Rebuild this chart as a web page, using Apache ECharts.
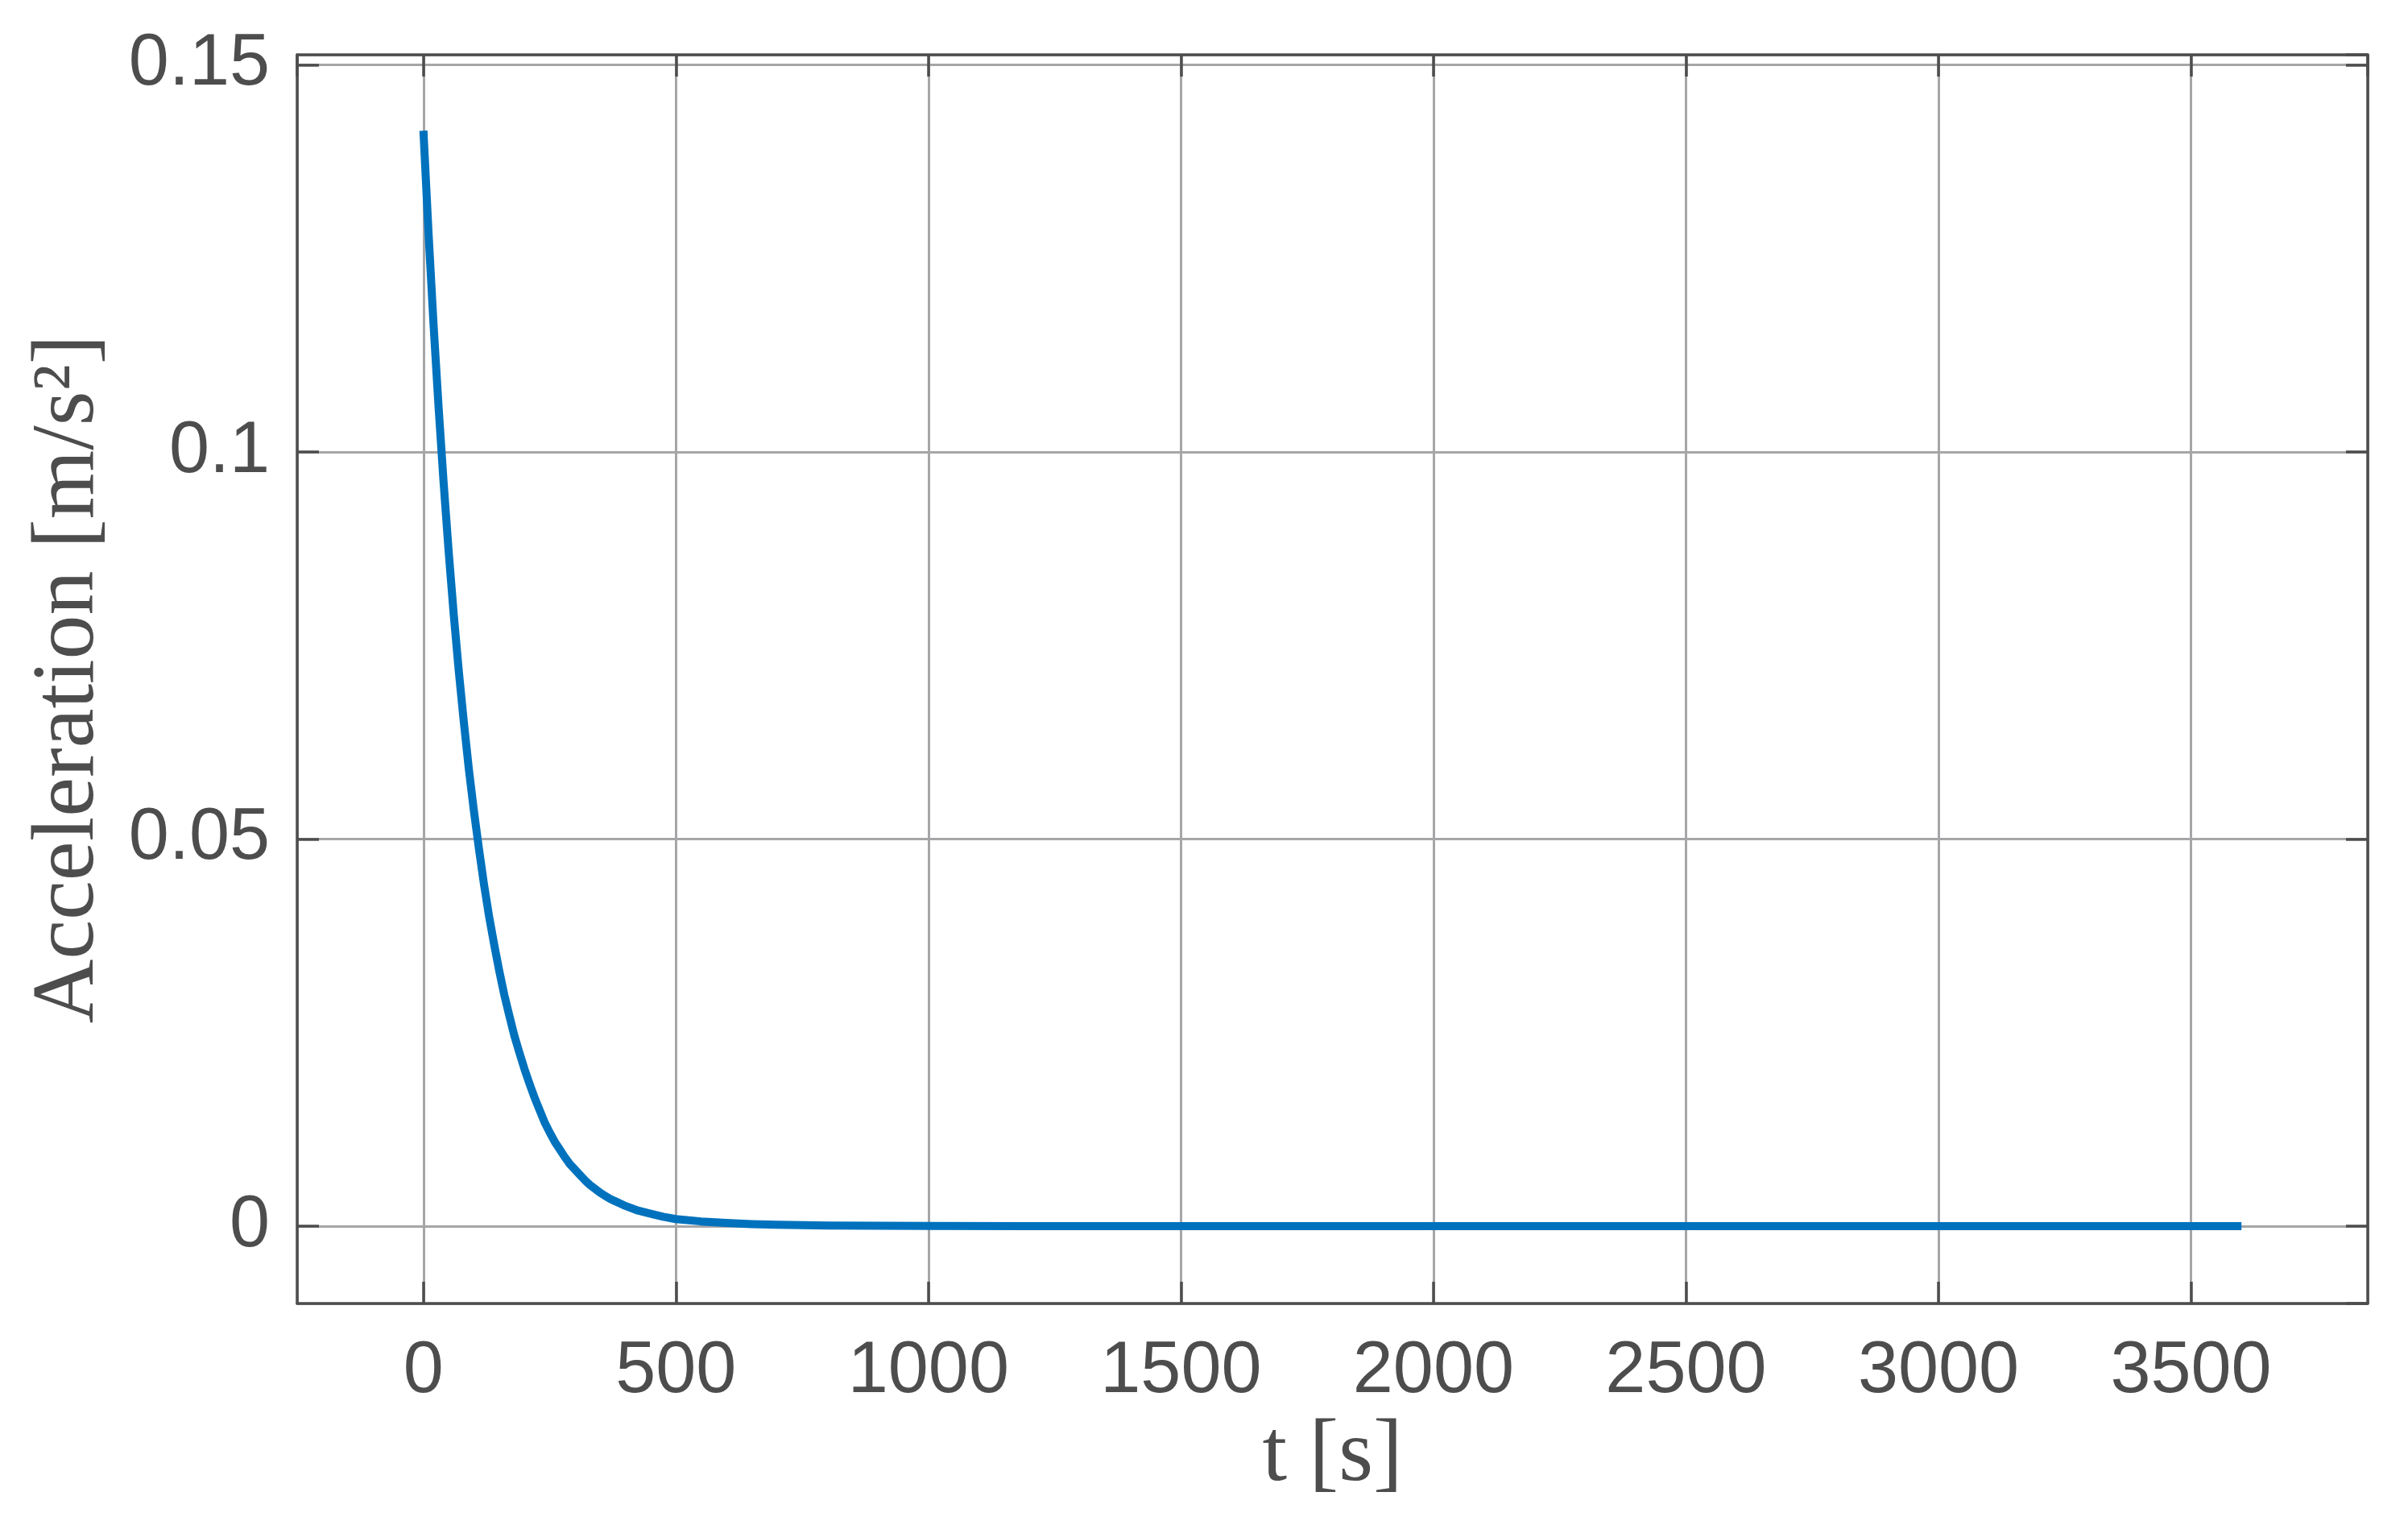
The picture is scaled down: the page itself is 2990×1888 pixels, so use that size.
<!DOCTYPE html>
<html>
<head>
<meta charset="utf-8">
<script src="https://cdn.jsdelivr.net/npm/echarts@6/dist/echarts.min.js"></script>
<style>
html,body{margin:0;padding:0;background:#fff;}
#chart{width:2990px;height:1888px;}
</style>
</head>
<body>
<div id="chart"></div>
<script>
// time samples [s]
var timeS = [0,10,20,30,40,50,60,70,80,90,100,110,120,130,140,150,160,170,180,190,
  200,210,220,230,240,250,260,270,280,290,300,310,320,330,340,350,360,370,380,390,400,
  425,450,475,500,550,600,650,700,800,900,1000,1200,1500,2000,2500,3000,3600];
// acceleration [m/s^2]
var accel = [0.1415,0.1284,0.1165,0.1058,0.0960,0.0871,0.0790,0.0717,0.0651,0.0590,0.0536,0.0487,0.0441,0.0400,0.0364,0.0330,0.0299,0.0272,0.0246,0.0224,
  0.0203,0.0184,0.0166,0.0150,0.0134,0.0121,0.0109,0.0099,0.0089,0.0080,0.0073,0.0066,0.0059,0.0053,0.0048,0.0043,0.0039,0.0035,0.0032,0.0029,0.0026,
  0.0020,0.0016,0.0012,0.0009,0.0006,0.0004,0.00025,0.00016,0.00007,0.00003,0.00001,0,0,0,0,0,0];
var xLimits = [-250, 3850];
var yLimits = [-0.01, 0.1513];
var xTitle = 't [s]';
var yTitle = 'Acceleration [m/s²]';

var seriesData = timeS.map(function(t, i){ return [t, accel[i]]; });

var axisColor = '#4d4d4d';
var gridColor = '#a6a6a8';
var tickFont = 'Liberation Sans, Arial, Helvetica, sans-serif';
var titleFont = 'Liberation Serif, Times New Roman, serif';

function fmt(v){ return String(+v.toFixed(6)); }

var chart = echarts.init(document.getElementById('chart'), null, {renderer:'canvas'});
chart.setOption({
  backgroundColor:'#ffffff',
  animation:false,
  grid:{left:369, top:68, width:2571, height:1550, containLabel:false},
  xAxis:[{
    type:'value', min:xLimits[0], max:xLimits[1], splitNumber:8, position:'bottom',
    name:xTitle, nameLocation:'middle', nameGap:131,
    nameTextStyle:{fontFamily:titleFont, fontSize:110, color:axisColor},
    axisLine:{show:true, onZero:false, lineStyle:{color:axisColor, width:3.5}},
    axisTick:{show:true, inside:true, length:27, lineStyle:{color:axisColor, width:3.5}},
    axisLabel:{show:true, margin:40, fontFamily:tickFont, fontSize:90, color:axisColor,
      showMinLabel:false, showMaxLabel:false, formatter:fmt},
    splitLine:{show:true, lineStyle:{color:gridColor, width:3}}
  },{
    type:'value', min:xLimits[0], max:xLimits[1], splitNumber:8, position:'top',
    axisLine:{show:true, onZero:false, lineStyle:{color:axisColor, width:3.5}},
    axisTick:{show:true, inside:true, length:27, lineStyle:{color:axisColor, width:3.5}},
    axisLabel:{show:false}, splitLine:{show:false}
  }],
  yAxis:[{
    type:'value', min:yLimits[0], max:yLimits[1], splitNumber:3, position:'left',
    name:yTitle, nameLocation:'middle', nameGap:228, nameRotate:90,
    nameTextStyle:{fontFamily:titleFont, fontSize:110, color:axisColor},
    axisLine:{show:true, onZero:false, lineStyle:{color:axisColor, width:3.5}},
    axisTick:{show:true, inside:true, length:27, lineStyle:{color:axisColor, width:3.5}},
    axisLabel:{show:true, margin:34, fontFamily:tickFont, fontSize:90, color:axisColor,
      showMinLabel:false, showMaxLabel:false, formatter:fmt},
    splitLine:{show:true, lineStyle:{color:gridColor, width:3}}
  },{
    type:'value', min:yLimits[0], max:yLimits[1], splitNumber:3, position:'right',
    axisLine:{show:true, onZero:false, lineStyle:{color:axisColor, width:3.5}},
    axisTick:{show:true, inside:true, length:27, lineStyle:{color:axisColor, width:3.5}},
    axisLabel:{show:false}, splitLine:{show:false}
  }],
  series:[{
    type:'line', xAxisIndex:0, yAxisIndex:0, data:seriesData,
    showSymbol:false, smooth:false, clip:true,
    lineStyle:{color:'#0072bd', width:10, cap:'butt', join:'round'}
  }]
});
</script>
</body>
</html>
